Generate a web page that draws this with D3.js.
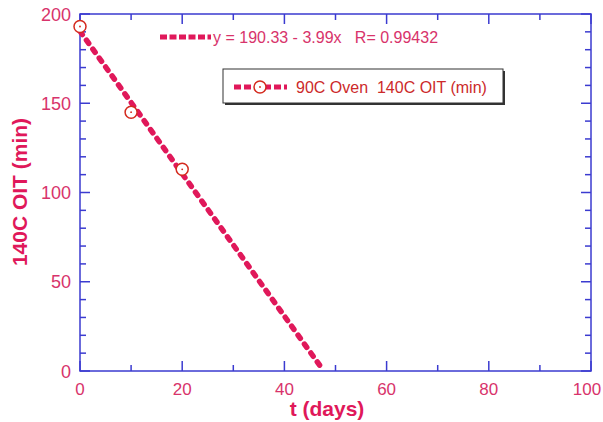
<!DOCTYPE html>
<html><head><meta charset="utf-8">
<script src="https://cdn.jsdelivr.net/npm/d3@7"></script>
<style>html,body{margin:0;padding:0;background:#fff}svg{display:block}</style>
</head><body>
<svg id="c" width="603" height="422"></svg>
<script>
const days = [0, 10, 20];
const oit = [193, 145, 113];
const fitIntercept = 190.33, fitSlope = -3.99;
const fitRange = [0, 47];
const xTicks = [0, 20, 40, 60, 80, 100];
const yTicks = [0, 50, 100, 150, 200];
const fitLabel = "y = 190.33 - 3.99x   R= 0.99432";
const seriesLabel = "90C Oven  140C OIT (min)";

const svg = d3.select("#c");
const L = 80, R = 591, T = 14, B = 371;
const x = d3.scaleLinear().domain([0, 100]).range([L, R]);
const y = d3.scaleLinear().domain([0, 200]).range([B, T]);
const axisCol = "#3b3bd0", textCol = "#d8336b", lineCol = "#e0185a", markCol = "#d42a1e";
const font = "Helvetica, Arial, 'Liberation Sans', sans-serif";

svg.append("rect").attr("x", L).attr("y", T).attr("width", R - L).attr("height", B - T)
  .attr("fill", "none").attr("stroke", axisCol).attr("stroke-width", 1.5);

const xMinor = d3.range(0, 101, 10), yMinor = d3.range(0, 201, 10);
const g = svg.append("g").attr("stroke", axisCol).attr("stroke-width", 1.5);
xMinor.forEach(v => {
  const len = v % 20 === 0 ? 10 : 6;
  g.append("line").attr("x1", x(v)).attr("x2", x(v)).attr("y1", B).attr("y2", B - len);
  g.append("line").attr("x1", x(v)).attr("x2", x(v)).attr("y1", T).attr("y2", T + len);
});
yMinor.forEach(v => {
  const len = v % 50 === 0 ? 10 : 6;
  g.append("line").attr("y1", y(v)).attr("y2", y(v)).attr("x1", L).attr("x2", L + len);
  g.append("line").attr("y1", y(v)).attr("y2", y(v)).attr("x1", R).attr("x2", R - len);
});

svg.selectAll(".xt").data(xTicks).enter().append("text")
  .attr("x", d => Math.min(x(d), 587)).attr("y", B + 24).attr("text-anchor", "middle")
  .attr("font-family", font).attr("font-size", 17).attr("fill", textCol).text(d => d);
svg.selectAll(".yt").data(yTicks).enter().append("text")
  .attr("x", L - 9).attr("y", d => y(d) + 6.5).attr("text-anchor", "end")
  .attr("font-family", font).attr("font-size", 18).attr("fill", textCol).text(d => d);

svg.append("text").attr("x", 327).attr("y", 416).attr("text-anchor", "middle")
  .attr("font-family", font).attr("font-size", 21).attr("font-weight", "bold")
  .attr("fill", lineCol).text("t (days)");
svg.append("text").attr("transform", "translate(27,192) rotate(-90)").attr("text-anchor", "middle")
  .attr("font-family", font).attr("font-size", 21).attr("font-weight", "bold")
  .attr("fill", lineCol).text("140C OIT (min)");

const fitFn = t => fitIntercept + fitSlope * t;
const line = d3.line().x(d => x(d)).y(d => y(fitFn(d)));
svg.append("path").datum(fitRange).attr("d", line).attr("fill", "none")
  .attr("stroke", lineCol).attr("stroke-width", 5.5).attr("stroke-dasharray", "4,7")
  .attr("stroke-linecap", "round");

function marker(sel, cx, cy) {
  sel.append("circle").attr("cx", cx).attr("cy", cy).attr("r", 6)
    .attr("fill", "#fff").attr("stroke", markCol).attr("stroke-width", 1.5);
  sel.append("circle").attr("cx", cx).attr("cy", cy).attr("r", 0.9).attr("fill", markCol);
}
days.forEach((d, i) => marker(svg, x(d), y(oit[i])));

svg.append("line").attr("x1", 160).attr("x2", 211).attr("y1", 37).attr("y2", 37)
  .attr("stroke", lineCol).attr("stroke-width", 5).attr("stroke-dasharray", "7,2.5");
svg.append("text").attr("x", 213).attr("y", 43).attr("font-family", font).attr("font-size", 16)
  .attr("fill", textCol).style("white-space", "pre").text(fitLabel);

svg.append("rect").attr("x", 225).attr("y", 71).attr("width", 280).attr("height", 34).attr("fill", "#333");
svg.append("rect").attr("x", 223).attr("y", 69).attr("width", 280).attr("height", 34)
  .attr("fill", "#fff").attr("stroke", "#333").attr("stroke-width", 1);
svg.append("line").attr("x1", 234).attr("x2", 287).attr("y1", 87).attr("y2", 87)
  .attr("stroke", lineCol).attr("stroke-width", 5).attr("stroke-dasharray", "7,3");
marker(svg, 260, 87);
svg.append("text").attr("x", 296).attr("y", 93).attr("font-family", font).attr("font-size", 16)
  .attr("fill", "#cc2a2a").style("white-space", "pre").text(seriesLabel);
</script>
</body></html>
